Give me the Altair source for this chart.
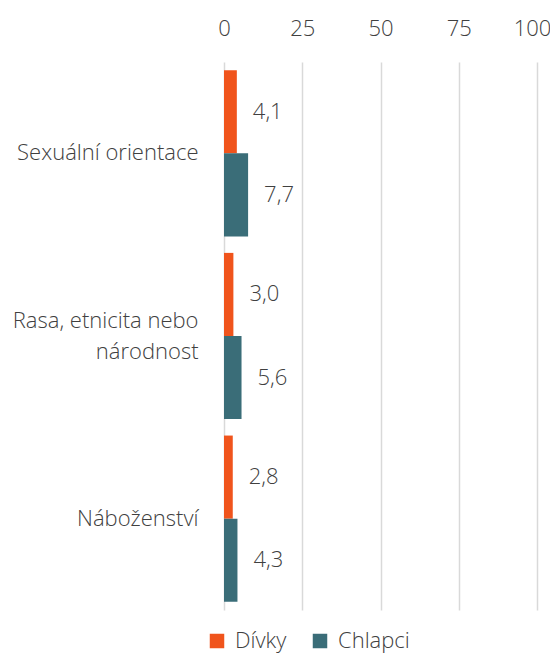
import altair as alt
import pandas as pd

categories = ["Sexuální orientace", "Rasa, etnicita nebo národnost", "Náboženství"]
series = ["Dívky", "Chlapci"]
divky = [4.1, 3.0, 2.8]
chlapci = [7.7, 5.6, 4.3]
x_ticks = [0, 25, 50, 75, 100]
colors = ["#F0541C", "#3A6D78"]

rows = []
for c, d, ch in zip(categories, divky, chlapci):
    rows.append({"kategorie": c, "pohlavi": "Dívky", "hodnota": d})
    rows.append({"kategorie": c, "pohlavi": "Chlapci", "hodnota": ch})
df = pd.DataFrame(rows)

FONT = "Open Sans"
FS = 22
FW = 300
TXT = "#404040"
WRAPPED = "Rasa, etnicita nebo národnost"

y_enc = alt.Y(
    "kategorie:N",
    sort=categories,
    scale=alt.Scale(paddingInner=0.09, paddingOuter=0.045),
    axis=alt.Axis(
        title=None, ticks=False, domain=False, labelPadding=26,
        labelFontSize=FS, labelColor=TXT, labelFont=FONT, labelFontWeight=FW,
        labelLineHeight=31,
        labelExpr=f"datum.value == '{WRAPPED}' ? ['Rasa, etnicita nebo', 'národnost'] : datum.label",
        labelLimit=300,
        labelOffset={"condition": {"test": f"datum.value == '{WRAPPED}'", "value": -15}, "value": 0},
    ),
)
yoff = alt.YOffset("pohlavi:N", sort=series, scale=alt.Scale(paddingInner=0, paddingOuter=0))

base = alt.Chart(df).encode(y=y_enc, yOffset=yoff)

bars = base.mark_bar().encode(
    x=alt.X(
        "hodnota:Q",
        scale=alt.Scale(domain=[0, 100], nice=False),
        axis=alt.Axis(
            orient="top", values=x_ticks, title=None, ticks=False, domain=False,
            grid=True, gridColor="#d9d9d9", gridWidth=1.5, labelFlush=False,
            labelFontSize=FS, labelColor=TXT, labelFont=FONT, labelFontWeight=FW,
            labelPadding=22,
            labelOffset={"condition": {"test": "datum.value == 100", "value": -5}, "value": 0},
        ),
    ),
    color=alt.Color(
        "pohlavi:N",
        sort=series,
        scale=alt.Scale(domain=series, range=colors),
        legend=alt.Legend(
            title=None, orient="none", legendX=-18, legendY=568, direction="horizontal",
            symbolType="square", symbolSize=210, symbolStrokeWidth=0,
            labelFontSize=FS, labelColor=TXT, labelFont=FONT, labelFontWeight=FW,
            columnPadding=22, labelOffset=7,
        ),
    ),
)

labels = base.mark_text(
    align="left", baseline="middle", dx=16, fontSize=FS, color=TXT, font=FONT, fontWeight=FW
).transform_calculate(
    lbl="replace(format(datum.hodnota, '.1f'), '.', ',')"
).encode(x="hodnota:Q", text="lbl:N")

chart = (bars + labels).properties(
    width=313, height=548,
    autosize=alt.AutoSizeParams(type="none"),
    padding={"left": 216, "top": 54, "right": 13, "bottom": 44},
).configure_view(stroke=None)

chart.save("out.html", embed_options={"renderer": "svg", "actions": False})
